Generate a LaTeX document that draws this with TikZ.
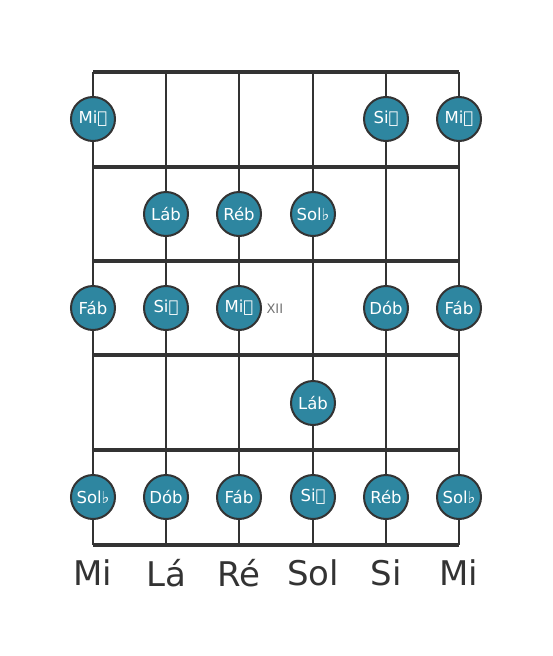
\documentclass[tikz,border=0pt]{standalone}
\usepackage{fontspec}
\setmainfont{DejaVu Sans}
\begin{document}
\begin{tikzpicture}[x=1pt,y=-1pt,
  fret/.style={line width=3.5pt,draw=black!80},
  nut/.style={line width=4.5pt,draw=black!80},
  string/.style={line width=2pt,draw=black!80},
  note/.style={circle,minimum size=44pt,inner sep=0pt,fill=notefill,draw=black!80,line width=2pt,text=white,font=\fontsize{16.5}{16.5}\selectfont},
  strname/.style={text=black!80,font=\fontsize{34}{34}\selectfont},
  fretnum/.style={text=black!55,font=\fontsize{13}{13}\selectfont,anchor=west}]
\definecolor{notefill}{HTML}{2E86A0}
\useasboundingbox (0,0) rectangle (553,656);
% strings
\foreach \x [count=\i] in {93,166,239,313,386,459}{
  \coordinate (s\i t) at (\x,72);
  \coordinate (s\i b) at (\x,545);
  \draw[string] (s\i t) -- (s\i b);
}
% frets
\foreach \y [count=\j] in {167,261,355,450,545}{
  \coordinate (f\j l) at (93,\y);
  \coordinate (f\j r) at (459,\y);
  \draw[fret] (f\j l) -- (f\j r);
}
\coordinate (nl) at (93,72);
\coordinate (nr) at (459,72);
\draw[nut] (nl) -- (nr);
% row 1
\node[note] (n11) at (93,119) {Mi𝄫};
\node[note] (n15) at (386,119) {Si𝄫};
\node[note] (n16) at (459,119) {Mi𝄫};
% row 2
\node[note] (n22) at (166,214) {Láb};
\node[note] (n23) at (239,214) {Réb};
\node[note] (n24) at (313,214) {Sol♭};
% row 3
\node[note] (n31) at (93,308) {Fáb};
\node[note] (n32) at (166,308) {Si𝄫};
\node[note] (n33) at (239,308) {Mi𝄫};
\node[fretnum] (xii) at (263,309) {XII};
\node[note] (n35) at (386,308) {Dób};
\node[note] (n36) at (459,308) {Fáb};
% row 4
\node[note] (n44) at (313,403) {Láb};
% row 5
\node[note] (n51) at (93,497) {Sol♭};
\node[note] (n52) at (166,497) {Dób};
\node[note] (n53) at (239,497) {Fáb};
\node[note] (n54) at (313,497) {Si𝄫};
\node[note] (n55) at (386,497) {Réb};
\node[note] (n56) at (459,497) {Sol♭};
% string names
\node[strname] (l1) at (93,573) {Mi};
\node[strname] (l2) at (166,573) {Lá};
\node[strname] (l3) at (239,573) {Ré};
\node[strname] (l4) at (313,573) {Sol};
\node[strname] (l5) at (386,573) {Si};
\node[strname] (l6) at (459,573) {Mi};
\end{tikzpicture}
\end{document}
